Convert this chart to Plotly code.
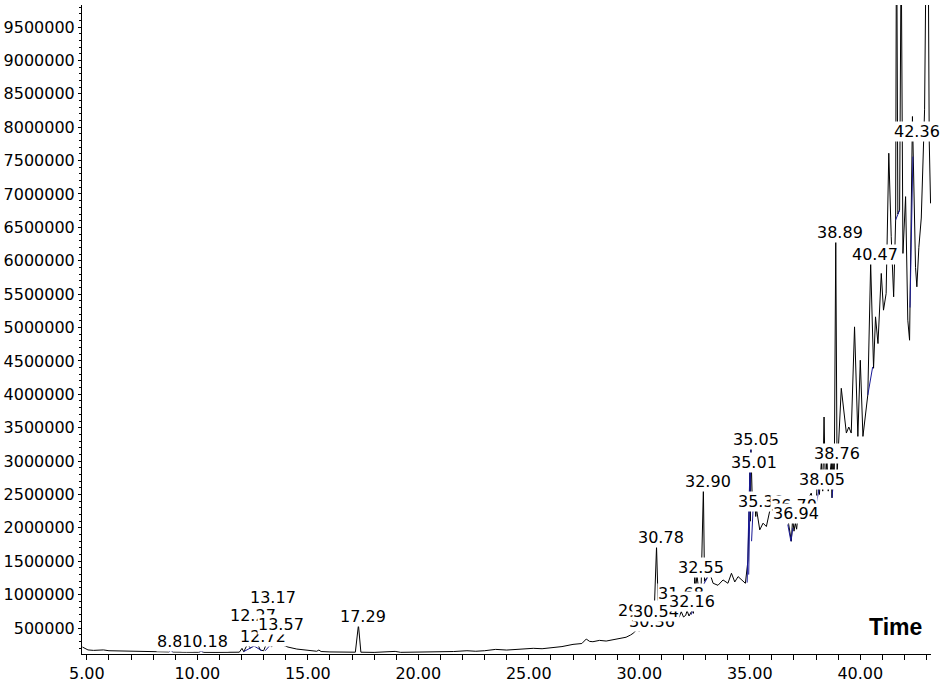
import plotly.graph_objects as go

# Total ion chromatogram: retention time (min) vs. abundance
time_min = [
    4.80, 4.90, 5.05, 5.30, 5.75, 6.00, 6.50, 7.00, 7.50, 8.00, 8.50, 8.70, 8.80, 8.90,
    9.50, 10.05, 10.18, 10.30, 10.80, 11.40, 11.90, 12.02, 12.10, 12.27, 12.40, 12.55,
    12.72, 12.85, 13.00, 13.17, 13.35, 13.57, 13.80, 14.10, 14.50, 15.00, 15.40, 15.50,
    15.60, 16.00, 16.50, 17.15, 17.29, 17.40, 18.00, 18.50, 18.95, 19.20, 19.80, 20.50,
    21.00, 21.60, 22.20, 22.60, 23.00, 23.50, 24.00, 24.60, 25.20, 25.60, 26.10, 26.50,
    27.00, 27.40, 27.60, 27.75, 27.90, 28.20, 28.50, 28.80, 29.10, 29.40, 29.60, 29.72,
    29.87, 30.00, 30.15, 30.35, 30.50, 30.65, 30.78, 30.88, 31.10, 31.40, 31.60, 31.80,
    31.90, 32.00, 32.10, 32.16, 32.25, 32.40, 32.45, 32.51, 32.55, 32.61, 32.68, 32.80,
    32.90, 32.95, 33.11, 33.19, 33.34, 33.56, 33.79, 34.01, 34.17, 34.32, 34.47, 34.62,
    34.80, 34.92, 35.01, 35.03, 35.05, 35.12, 35.22, 35.27, 35.30, 35.45, 35.60, 35.75,
    35.90, 36.20, 36.50, 36.65, 36.70, 36.76, 36.88, 36.94, 37.00, 37.06, 37.12, 37.20,
    37.50, 37.78, 37.90, 38.01, 38.05, 38.15, 38.24, 38.30, 38.36, 38.42, 38.49, 38.55,
    38.69, 38.72, 38.76, 38.82, 38.89, 38.95, 39.14, 39.37, 39.48, 39.59, 39.74, 39.89,
    40.00, 40.12, 40.34, 40.47, 40.60, 40.69, 40.80, 40.95, 41.05, 41.17, 41.29, 41.40,
    41.51, 41.60, 41.64, 41.70, 41.78, 41.85, 41.93, 42.05, 42.15, 42.23, 42.36, 42.50,
    42.56, 42.65, 42.76, 42.91, 43.00, 43.07, 43.12, 43.18,
]
abundance = [
    215000, 195000, 172000, 165000, 172000, 160000, 155000, 152000, 150000, 147000, 143000, 142000, 170000, 141000,
    138000, 137000, 152000, 136000, 135000, 136000, 138000, 195000, 145000, 260000, 200000, 235000,
    265000, 170000, 160000, 300000, 220000, 280000, 250000, 215000, 185000, 165000, 152000, 170000,
    148000, 142000, 140000, 138000, 545000, 138000, 135000, 138000, 150000, 136000, 138000, 142000,
    140000, 148000, 160000, 152000, 160000, 180000, 170000, 178000, 196000, 190000, 211000, 222000,
    255000, 268000, 335000, 300000, 295000, 315000, 305000, 325000, 335000, 362000, 395000, 421000,
    470000, 455000, 500000, 490000, 520000, 510000, 1718000, 545000, 560000, 585000, 610000, 660000,
    745000, 665000, 690000, 760000, 680000, 770000, 720000, 1290000, 1090000, 1290000, 1095000, 1140000,
    2592000, 1200000, 1270000, 1320000, 1170000, 1140000, 1220000, 1170000, 1320000, 1190000, 1270000, 1220000,
    1170000, 1520000, 2950000, 2100000, 3200000, 2320000, 2420000, 2170000, 2290000, 1970000, 2070000, 2020000,
    2250000, 2300000, 2250000, 2200000, 2300000, 2050000, 1800000, 2150000, 1950000, 2070000, 1980000, 2250000,
    2350000, 2520000, 2300000, 2370000, 2700000, 2500000, 3000000, 2550000, 3660000, 2600000, 3050000, 2550000,
    3000000, 2450000, 3100000, 2600000, 6310000, 2800000, 4090000, 3420000, 3510000, 3420000, 5010000, 3370000,
    4510000, 3370000, 3990000, 5960000, 4390000, 5160000, 4760000, 5810000, 5260000, 5510000, 7610000, 6360000,
    5460000, 6610000, 11500000, 6700000, 6760000, 10800000, 6110000, 6960000, 5110000, 4810000, 8160000, 5900000,
    5610000, 6200000, 6640000, 8260000, 11500000, 11000000, 7800000, 6860000,
]

# Integration baselines (segments separated by None)
base_time = [
    8.72, 8.80, 8.88, None,
    10.10, 10.18, 10.26, None,
    12.09, 12.57, 12.92, None,
    13.07, 13.30, None,
    29.95, 30.10, 30.30, 30.50, None,
    32.35, 32.45, None,
    32.81, 33.11, None,
    34.88, 35.01, None,
    34.95, 35.05, None,
    35.08, 35.15, None,
    36.72, 36.86, 36.95, None,
    38.01, 38.16, None,
    38.72, 38.76, None,
    40.34, 40.56, None,
    41.60, 41.78, None,
    42.25, 42.38,
]
base_abund = [
    140000, 165000, 140000, None,
    140000, 158000, 138000, None,
    146000, 230000, 160000, None,
    160000, 245000, None,
    470000, 520000, 500000, 530000, None,
    700000, 800000, None,
    1095000, 1270000, None,
    1180000, 2950000, None,
    1300000, 3200000, None,
    1800000, 2300000, None,
    2050000, 1800000, 2000000, None,
    2370000, 2620000, None,
    2450000, 2600000, None,
    3990000, 4410000, None,
    6610000, 6760000, None,
    5300000, 7560000,
]

# Peak labels and where each one is written (later labels sit on top)
peak_text = [
    "8.80", "10.18", "12.27", "13.17", "12.72", "13.57", "17.29",
    "29.87", "30.36", "30.54", "30.78", "31.68", "32.16", "32.55", "32.90",
    "35.30", "35.01", "35.05", "36.70", "36.94", "38.05", "38.76", "38.89",
    "40.47", "42.36",
]
label_x = [
    8.98, 10.36, 12.50, 13.41, 12.96, 13.79, 17.50,
    30.08, 30.57, 30.75, 31.00, 31.89, 32.39, 32.77, 33.10,
    35.52, 35.18, 35.26, 36.98, 37.11, 38.27, 38.96, 39.10,
    40.68, 42.57,
]
label_y = [
    295000, 295000, 695000, 957000, 380000, 560000, 669000,
    760000, 600000, 744000, 1858000, 1010000, 894000, 1406000, 2700000,
    2400000, 2980000, 3330000, 2330000, 2210000, 2730000, 3110000, 6420000,
    6100000, 7940000,
]

x_ticks = [5, 10, 15, 20, 25, 30, 35, 40]
x_tick_text = ["5.00", "10.00", "15.00", "20.00", "25.00", "30.00", "35.00", "40.00"]
y_ticks = list(range(500000, 9500001, 500000))
y_tick_text = [str(v) for v in y_ticks]

FONT = "DejaVu Sans"

fig = go.Figure()
fig.add_trace(go.Scatter(
    x=time_min, y=abundance, mode="lines",
    line=dict(color="black", width=1), hoverinfo="x+y", showlegend=False,
))
fig.add_trace(go.Scatter(
    x=base_time, y=base_abund, mode="lines", connectgaps=False,
    line=dict(color="rgb(25,25,150)", width=1), hoverinfo="skip", showlegend=False,
))

annotations = []
for txt, lx, ly in zip(peak_text, label_x, label_y):
    annotations.append(dict(
        x=lx, y=ly, xref="x", yref="y", text=txt, showarrow=False,
        xanchor="center", yanchor="middle", bgcolor="white", borderpad=0,
        font=dict(family=FONT, size=16, color="black"),
    ))
annotations.append(dict(
    x=41.6, y=515000, xref="x", yref="y", text="<b>Time</b>", showarrow=False,
    xanchor="center", yanchor="middle",
    font=dict(family="Liberation Sans", size=23, color="black"),
))

fig.update_layout(
    width=948, height=687,
    margin=dict(l=82, r=17, t=5, b=33),
    paper_bgcolor="white", plot_bgcolor="white",
    font=dict(family=FONT, size=16, color="black"),
    annotations=annotations,
    xaxis=dict(
        range=[4.78, 43.2], showgrid=False, zeroline=False,
        showline=True, linecolor="black", linewidth=1,
        ticks="outside", ticklen=5, tickcolor="black", tickwidth=1,
        tickvals=x_ticks, ticktext=x_tick_text,
        minor=dict(dtick=1, ticks="outside", ticklen=5, tickcolor="black", tickwidth=1),
    ),
    yaxis=dict(
        range=[111000, 9830000], showgrid=False, zeroline=False,
        showline=True, linecolor="black", linewidth=1,
        ticks="outside", ticklen=3, tickcolor="black", tickwidth=1,
        tickvals=y_ticks, ticktext=y_tick_text,
        minor=dict(dtick=100000, ticks="outside", ticklen=2, tickcolor="black", tickwidth=1),
    ),
)

fig.write_html("out.html")
